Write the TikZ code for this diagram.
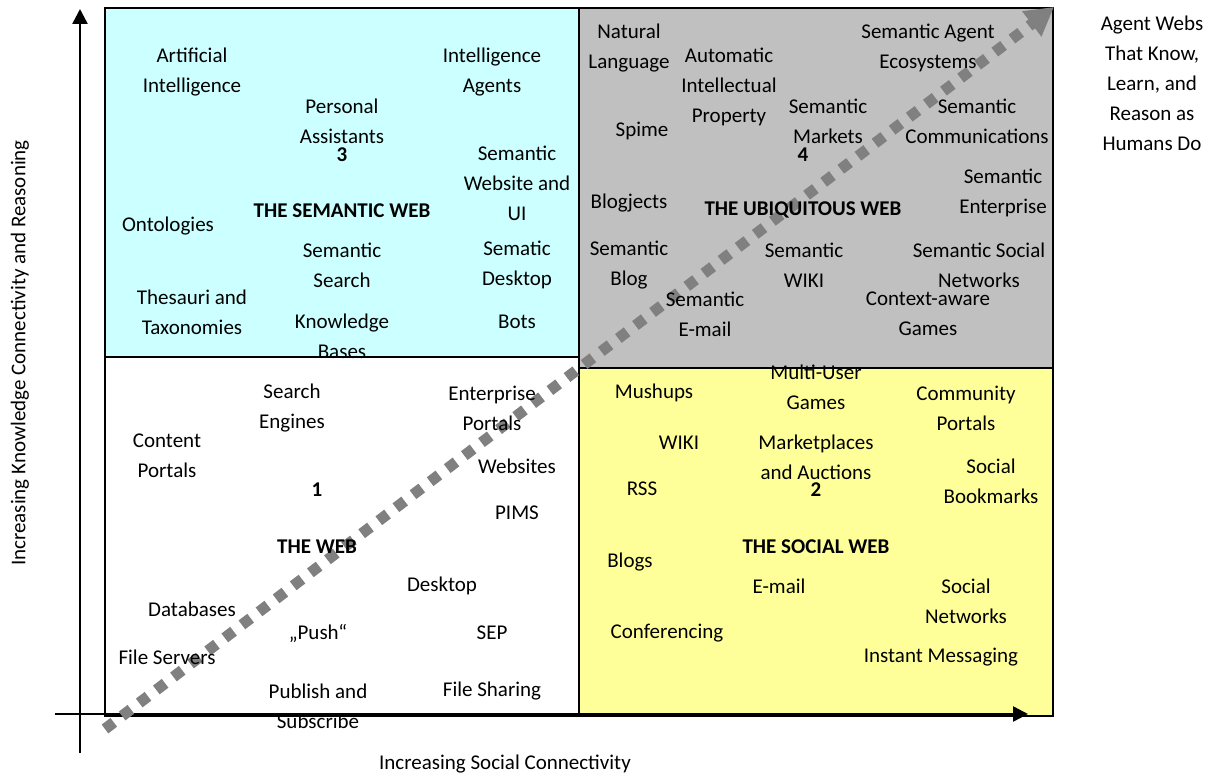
\documentclass[tikz,border=0pt]{standalone}
\usepackage{fontspec}
\setmainfont{Carlito}
\usepackage{tikz}
\usetikzlibrary{arrows.meta}
\definecolor{semcyan}{HTML}{CCFFFF}
\definecolor{ubigray}{HTML}{C0C0C0}
\definecolor{socyellow}{HTML}{FFFF99}
\definecolor{trendgray}{HTML}{808080}

\begin{document}
\begin{tikzpicture}[x=1pt,y=-1pt,font=\fontsize{21}{30}\selectfont,
  quad/.style={draw,line width=1.5pt},
  axis/.style={line width=2.5pt,-{Triangle[length=15pt,width=15pt]}},
  trend/.style={trendgray,line width=11pt,dash pattern=on 11pt off 10.5pt,
    -{Triangle[length=28pt,width=30pt]}},
  item/.style={align=center,inner sep=0pt},
  title/.style={item,font=\fontsize{21}{30}\selectfont\bfseries}]
  \useasboundingbox (0,0) rectangle (1215,776);

  % the four quadrants
  \draw[quad,fill=semcyan] (105,8) rectangle (579,357);
  \draw[quad,fill=ubigray] (579,8) rectangle (1053,368);
  \draw[quad,fill=white] (105,357) rectangle (579,716);
  \draw[quad,fill=socyellow] (579,368) rectangle (1053,716);

  % axes
  \coordinate (yfoot) at (80,753);
  \coordinate (ytop) at (80,9);
  \coordinate (xfoot) at (55,714);
  \coordinate (xtip) at (1028,714);
  \draw[axis] (yfoot) -- (ytop);
  \draw[axis] (xfoot) -- (xtip);
  \node[rotate=90] (ylabel) at (20,353) {Increasing Knowledge Connectivity and Reasoning};
  \node (xlabel) at (505,764) {Increasing Social Connectivity};

  % diagonal trend
  \coordinate (trendstart) at (105,729);
  \coordinate (trendend) at (1054,7);
  \draw[trend] (trendstart) -- (trendend);
  \node[item] (agentwebs) at (1152,83) {Agent Webs\\That Know,\\Learn, and\\Reason as\\Humans Do};

  % 3: the semantic web
  \node[item] (ai) at (192,72) {Artificial\\Intelligence};
  \node[item] (agents) at (492,72) {Intelligence\\Agents};
  \node[item] (assist) at (342,121) {Personal\\Assistants};
  \node[title] (n3) at (342,155) {3};
  \node[item] (semsite) at (517,183) {Semantic\\Website and\\UI};
  \node[title] (semweb) at (342,211) {THE SEMANTIC WEB};
  \node[item] (onto) at (168,226) {Ontologies};
  \node[item] (semsearch) at (342,265) {Semantic\\Search};
  \node[item] (semdesk) at (517,265) {Sematic\\Desktop};
  \node[item] (thesauri) at (192,312) {Thesauri and\\Taxonomies};
  \node[item] (kbases) at (342,336) {Knowledge\\Bases};
  \node[item] (bots) at (517,322) {Bots};

  % 4: the ubiquitous web
  \node[item] (natlang) at (629,48) {Natural\\Language};
  \node[item] (autoip) at (729,87) {Automatic\\Intellectual\\Property};
  \node[item] (spime) at (642,131) {Spime};
  \node[item] (semmarkets) at (828,121) {Semantic\\Markets};
  \node[title] (n4) at (803,155) {4};
  \node[item] (ecosys) at (928,48) {Semantic Agent\\Ecosystems};
  \node[item] (semcomm) at (977,121) {Semantic\\Communications};
  \node[item] (sement) at (1003,193) {Semantic\\Enterprise};
  \node[item] (blogjects) at (629,203) {Blogjects};
  \node[title] (ubiweb) at (803,210) {THE UBIQUITOUS WEB};
  \node[item] (semblog) at (629,265) {Semantic\\Blog};
  \node[item] (semwiki) at (804,265) {Semantic\\WIKI};
  \node[item] (semsocial) at (979,265) {Semantic Social\\Networks};
  \node[item] (sememail) at (705,314) {Semantic\\E-mail};
  \node[item] (ctxgames) at (928,314) {Context-aware\\Games};

  % 1: the web
  \node[item] (engines) at (292,408) {Search\\Engines};
  \node[item] (entportals) at (492,408) {Enterprise\\Portals};
  \node[item] (content) at (167,456) {Content\\Portals};
  \node[item] (websites) at (517,466) {Websites};
  \node[title] (n1) at (317,490) {1};
  \node[item] (pims) at (517,513) {PIMS};
  \node[title] (theweb) at (317,547) {THE WEB};
  \node[item] (desktop) at (442,586) {Desktop};
  \node[item] (databases) at (192,609) {Databases};
  \node[item] (push) at (318,633) {„Push“};
  \node[item] (sep) at (492,633) {SEP};
  \node[item] (fileserv) at (167,657) {File Servers};
  \node[item] (pubsub) at (318,706) {Publish and\\Subscribe};
  \node[item] (fileshare) at (492,691) {File Sharing};

  % 2: the social web
  \node[item] (mugames) at (816,387) {Multi-User\\Games};
  \node[item] (mushups) at (654,393) {Mushups};
  \node[item] (community) at (966,408) {Community\\Portals};
  \node[item] (wiki) at (679,443) {WIKI};
  \node[item] (market) at (816,457) {Marketplaces\\and Auctions};
  \node[item] (bookmarks) at (991,481) {Social\\Bookmarks};
  \node[item] (rss) at (642,489) {RSS};
  \node[title] (n2) at (816,490) {2};
  \node[title] (socweb) at (816,547) {THE SOCIAL WEB};
  \node[item] (blogs) at (630,562) {Blogs};
  \node[item] (email) at (779,586) {E-mail};
  \node[item] (socnet) at (966,601) {Social\\Networks};
  \node[item] (conf) at (667,633) {Conferencing};
  \node[item] (im) at (941,657) {Instant Messaging};
\end{tikzpicture}
\end{document}
